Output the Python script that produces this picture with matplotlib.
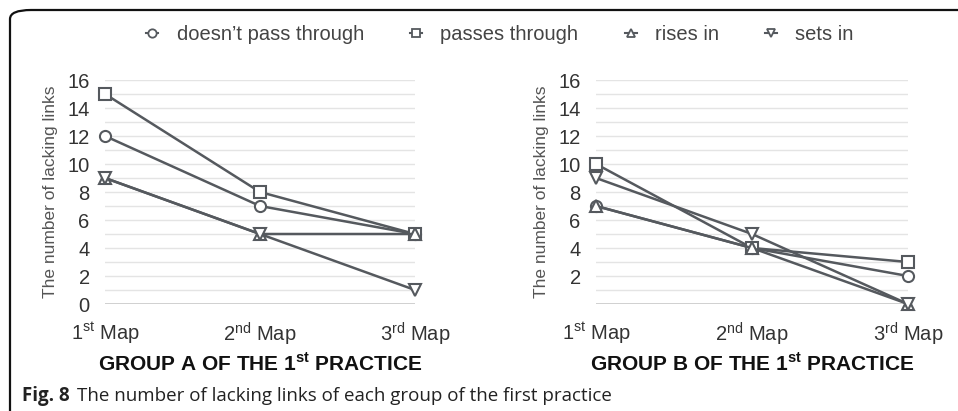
import matplotlib.pyplot as plt
from matplotlib.lines import Line2D
from matplotlib.patches import FancyBboxPatch

plt.rcParams['font.family'] = ['Liberation Sans', 'DejaVu Sans']
plt.rcParams['mathtext.fontset'] = 'custom'
plt.rcParams['mathtext.rm'] = 'Liberation Sans'
plt.rcParams['mathtext.bf'] = 'Liberation Sans:bold'

maps = [r'1$^{\mathrm{st}}$ Map', r'2$^{\mathrm{nd}}$ Map', r'3$^{\mathrm{rd}}$ Map']
series_names = ["doesn\u2019t pass through", "passes through", "rises in", "sets in"]
markers = ['o', 's', '^', 'v']

group_a = {
    "doesn\u2019t pass through": [12, 7, 5],
    "passes through": [15, 8, 5],
    "rises in": [9, 5, 5],
    "sets in": [9, 5, 1],
}
group_b = {
    "doesn\u2019t pass through": [7, 4, 2],
    "passes through": [10, 4, 3],
    "rises in": [7, 4, 0],
    "sets in": [9, 5, 0],
}
titles = [r'GROUP A OF THE 1$^{\mathbf{st}}$ PRACTICE', r'GROUP B OF THE 1$^{\mathbf{st}}$ PRACTICE']

line_col = '#55595e'
text_col = '#333333'

fig = plt.figure(figsize=(9.58, 4.11), dpi=100)

# rounded frame (open to the right / bottom)
frame = FancyBboxPatch((10 / 958, -0.2), 1.2, 1 - 10 / 411 + 0.2,
                       boxstyle="round,pad=0,rounding_size=0.022",
                       transform=fig.transFigure, fill=False,
                       edgecolor='#111111', linewidth=1.6)
fig.patches.append(frame)

axes_pos = [[105 / 958, 1 - 304 / 411, 310 / 958, 224 / 411],
            [596 / 958, 1 - 304 / 411, 312 / 958, 224 / 411]]

for i, data in enumerate([group_a, group_b]):
    ax = fig.add_axes(axes_pos[i])
    for y in range(1, 17):
        ax.axhline(y, color='#e4e4e4', lw=1, zorder=0)
    ax.axhline(0, color='#c8c8c8', lw=1.2, zorder=0)
    for name, mk in zip(series_names, markers):
        ax.plot(range(3), data[name], color=line_col, lw=1.8, marker=mk,
                markersize=9 if mk in '^v' else 8, markerfacecolor='white',
                markeredgecolor=line_col, markeredgewidth=1.5, clip_on=False, zorder=3)
    ax.set_xlim(0, 2)
    ax.set_ylim(0, 16)
    ax.set_xticks(range(3))
    ax.set_xticklabels(maps)
    if i == 0:
        ax.set_yticks(range(0, 17, 2))
    else:
        ax.set_yticks(range(2, 17, 2))
    ax.tick_params(length=0, labelsize=14.5, colors=text_col)
    ax.tick_params(axis='y', pad=11)
    ax.tick_params(axis='x', pad=12)
    for s in ax.spines.values():
        s.set_visible(False)
    ax.set_ylabel("The number of lacking links", fontsize=12.5, color='#555555', labelpad=7)
    cx = axes_pos[i][0] + axes_pos[i][2] / 2
    fig.text(cx, 1 - 363 / 411, titles[i], ha='center', va='center',
             fontsize=15, fontweight='bold', color='#111111')

handles = [Line2D([0], [0], color=line_col, lw=1.5, marker=mk, markersize=6,
                  markerfacecolor='white', markeredgecolor=line_col, markeredgewidth=1.3)
           for mk in markers]
fig.legend(handles, series_names, loc='center', bbox_to_anchor=(500 / 958, 1 - 35 / 411),
           ncol=4, frameon=False, fontsize=14.5, handlelength=0.6, handletextpad=0.9,
           columnspacing=2.3, labelcolor='#444444')

fig.canvas.draw()
cap_y = 1 - 396 / 411
t1 = fig.text(22 / 958, cap_y, "Fig. 8", fontsize=13.5, fontweight='bold',
              family='Open Sans', va='center', ha='left', color='#222222')
bb = t1.get_window_extent(fig.canvas.get_renderer())
fig.text((bb.x1 + 7) / 958, cap_y,
         "The number of lacking links of each group of the first practice",
         fontsize=13.5, family='Open Sans', va='center', ha='left', color='#222222')

fig.savefig('out.png', dpi=100)
